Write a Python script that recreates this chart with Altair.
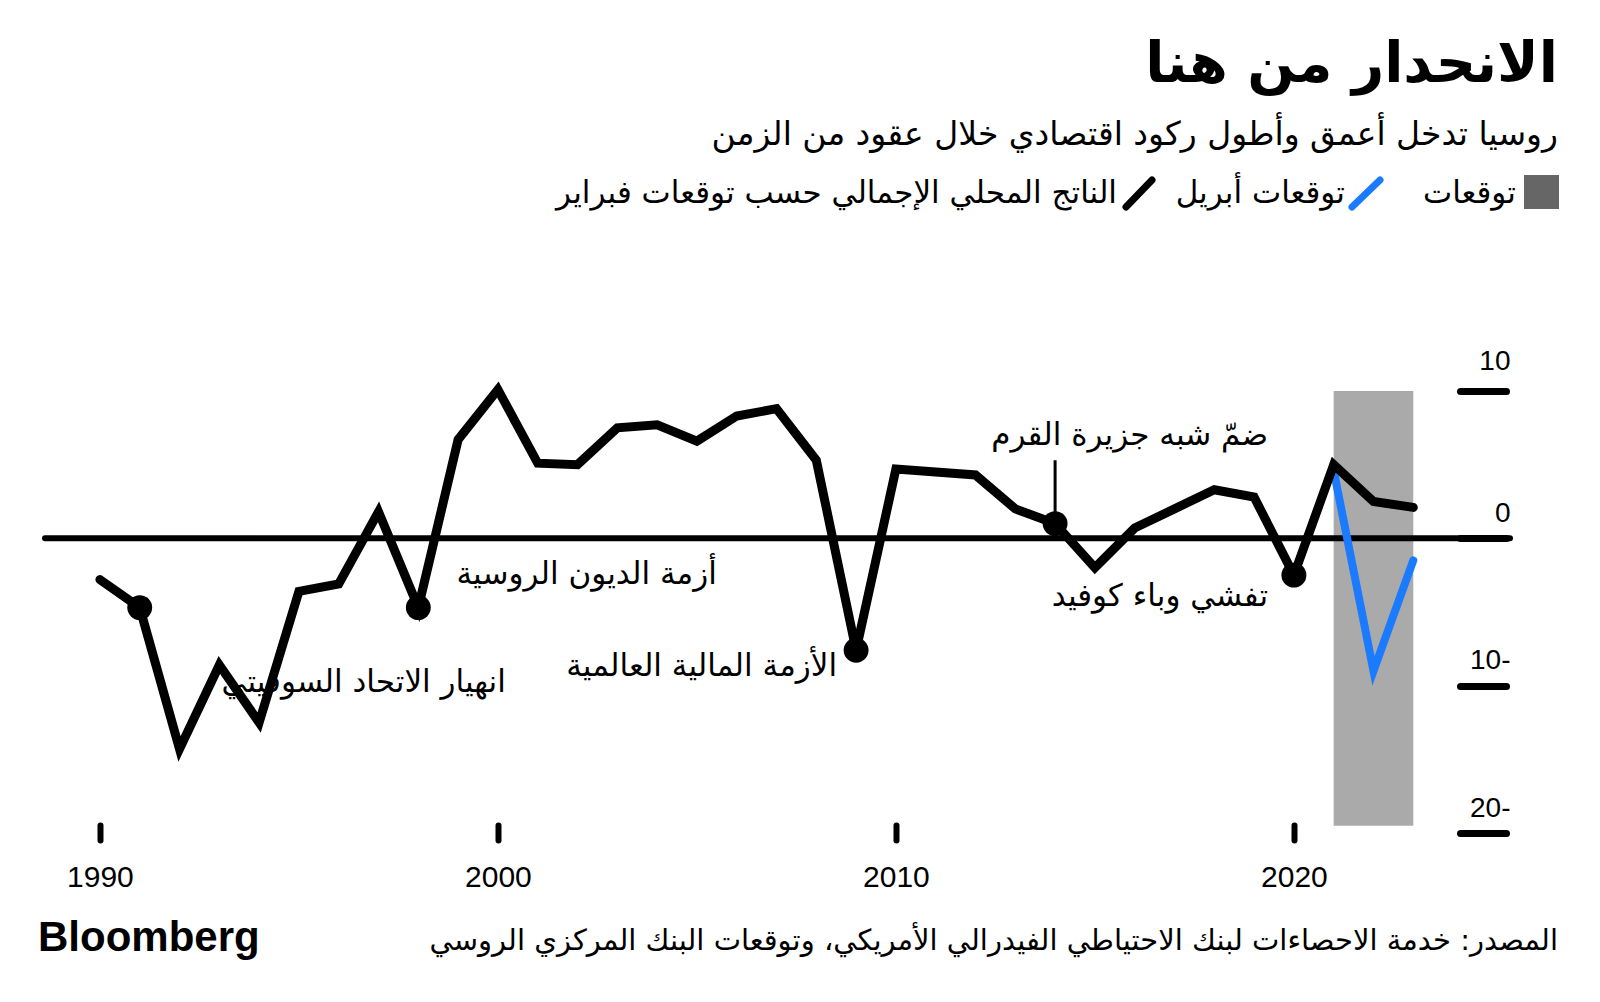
import altair as alt
import pandas as pd

# ---------------- data ----------------
years = list(range(1990, 2024))
gdp = [-2.8, -4.7, -14.3, -8.6, -12.5, -3.6, -3.1, 1.8, -4.7, 6.7,
       10.1, 5.1, 5.0, 7.5, 7.7, 6.6, 8.3, 8.8, 5.3, -7.6,
       4.7, 4.5, 4.3, 2.0, 1.0, -2.0, 0.7, 2.0, 3.3, 2.8,
       -2.5, 5.0, 2.5, 2.1]

april_years = [2021, 2022, 2023]
april_gdp = [4.6, -9.0, -1.5]

forecast_start = [2021]
forecast_end = [2023]
band_top = [10]
band_bottom = [-19.5]

event_years = [1991, 1998, 2009, 2014, 2020]
event_labels = ["انهيار الاتحاد السوفيتي", "أزمة الديون الروسية",
                "الأزمة المالية العالمية", "ضمّ شبه جزيرة القرم",
                "تفشي وباء كوفيد"]
label_x = [2000.2, 2005.5, 2008.52, 2019.35, 2019.35]
label_y = [-9.85, -2.5, -8.75, 6.95, -4.0]

crimea_year = [2014]
crimea_top = [5.3]
crimea_bottom = [1.0]

x_ticks = [1990, 2000, 2010, 2020]
y_ticks = [10, 0, -10, -20]

title_text = "الانحدار من هنا"
subtitle_text = "روسيا تدخل أعمق وأطول ركود اقتصادي خلال عقود من الزمن"
legend_texts = ["توقعات", "توقعات أبريل", "الناتج المحلي الإجمالي حسب توقعات فبراير"]
source_text = "المصدر: خدمة الاحصاءات لبنك الاحتياطي الفيدرالي الأمريكي، وتوقعات البنك المركزي الروسي"
brand_text = "Bloomberg"

# ---------------- tables ----------------
main_df = pd.DataFrame({"year": years, "gdp": gdp})
april_df = pd.DataFrame({"year": april_years, "gdp": april_gdp})
band_df = pd.DataFrame({"x1": forecast_start, "x2": forecast_end,
                        "y1": band_top, "y2": band_bottom})
event_df = pd.DataFrame({"year": event_years,
                         "gdp": [gdp[years.index(y)] for y in event_years]})
label_df = pd.DataFrame({"lx": label_x, "ly": label_y, "label": event_labels})
crimea_df = pd.DataFrame({"year": crimea_year, "y1": crimea_top, "y2": crimea_bottom})
zero_df = pd.DataFrame({"z": [0]})

ARABIC = "DejaVu Sans"
LATIN = "Liberation Sans"
BLUE = "#1a7bff"

xscale = alt.Scale(domain=[1988.62, 2025.43], nice=False, zero=False)
yscale = alt.Scale(domain=[-20, 10], nice=False, zero=False)

xaxis = alt.Axis(values=x_ticks, format="d", title=None, domain=False, grid=False,
                 orient="bottom", offset=-8, tickSize=15, tickWidth=6, tickCap="round",
                 tickColor="black", labelFont=LATIN, labelFontSize=30,
                 labelColor="black", labelPadding=22, labelFlush=False)
yaxis = alt.Axis(values=y_ticks, title=None, domain=False, grid=False,
                 orient="right", offset=-50, tickSize=46, tickWidth=7, tickCap="round",
                 tickColor="black", labelAlign="right", labelBaseline="alphabetic",
                 labelOffset={"condition": {"test": "datum.value == 10", "value": -22},
                              "value": -17},
                 labelPadding=4, labelFont=LATIN, labelFontSize=28,
                 labelColor="black", labelFlush=False,
                 labelExpr="datum.value < 0 ? format(-datum.value, 'd') + '-' : format(datum.value, 'd')")


def X(field):
    return alt.X(field, type="quantitative", scale=xscale, axis=xaxis)


def Y(field):
    return alt.Y(field, type="quantitative", scale=yscale, axis=yaxis)


band = alt.Chart(band_df).mark_rect(color="#aaaaaa").encode(
    x=X("x1"), x2="x2", y=Y("y1"), y2="y2")

zero = alt.Chart(zero_df).mark_rule(color="black", strokeWidth=6, strokeCap="round").encode(
    y=Y("z"))

april_line = alt.Chart(april_df).mark_line(color=BLUE, strokeWidth=8, strokeCap="round").encode(
    x=X("year"), y=Y("gdp"))

gdp_line = alt.Chart(main_df).mark_line(color="black", strokeWidth=9, strokeCap="round",
                                        strokeJoin="miter").encode(
    x=X("year"), y=Y("gdp"))

dots = alt.Chart(event_df).mark_circle(color="black", opacity=1, size=620).encode(
    x=X("year"), y=Y("gdp"))

crimea_rule = alt.Chart(crimea_df).mark_rule(color="black", strokeWidth=3).encode(
    x=X("year"), y=Y("y1"), y2="y2")

labels = alt.Chart(label_df).mark_text(font=ARABIC, fontSize=31, color="black",
                                       align="right", baseline="middle").encode(
    x=X("lx"), y=Y("ly"), text="label:N")


def text_layer(txt, x, y, size, weight="normal", align="right", font=ARABIC):
    df = pd.DataFrame({"t": [txt]})
    return alt.Chart(df).mark_text(font=font, fontSize=size, fontWeight=weight,
                                   color="black", align=align, baseline="alphabetic").encode(
        x=alt.value(x), y=alt.value(y), text="t:N")


title = text_layer(title_text, 1513, -309, 56, weight="bold")
subtitle = text_layer(subtitle_text, 1513, -246, 33)
leg1 = text_layer(legend_texts[0], 1471, -188, 31)
leg2 = text_layer(legend_texts[1], 1300, -188, 31)
leg3 = text_layer(legend_texts[2], 1072, -188, 31)
source = text_layer(source_text, 1513, 559, 29)
brand = text_layer(brand_text, -7, 560, 42, weight=900, align="left", font=LATIN)

one = pd.DataFrame({"k": [0]})
leg_square = alt.Chart(one).mark_rect(color="#666666").encode(
    x=alt.value(1479), x2=alt.value(1514), y=alt.value(-216), y2=alt.value(-182))
leg_blue = alt.Chart(one).mark_rule(color=BLUE, strokeWidth=7, strokeCap="round").encode(
    x=alt.value(1307), x2=alt.value(1335), y=alt.value(-184), y2=alt.value(-211))
leg_black = alt.Chart(one).mark_rule(color="black", strokeWidth=7, strokeCap="round").encode(
    x=alt.value(1081), x2=alt.value(1107), y=alt.value(-184), y2=alt.value(-211))

chart = alt.layer(
    band, zero, april_line, gdp_line, dots, crimea_rule, labels,
    title, subtitle, leg_square, leg_blue, leg_black, leg1, leg2, leg3, source, brand
).properties(
    width=1465, height=442,
    padding={"left": 45, "top": 391, "right": 90, "bottom": 169},
    autosize=alt.AutoSizeParams(type="none"),
    background="white"
).configure_view(stroke=None)

chart.save("out.html", embed_options={"renderer": "svg", "actions": False})
